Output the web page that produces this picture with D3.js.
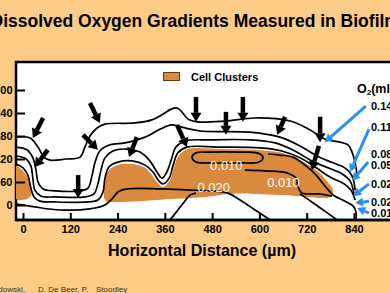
<!DOCTYPE html>
<html>
<head>
<meta charset="utf-8">
<script src="https://cdn.jsdelivr.net/npm/d3@7"></script>
<style>
  html, body { margin: 0; padding: 0; background: #fccb86; }
  svg { display: block; font-family: "Liberation Sans", Arial, sans-serif; }
</style>
</head>
<body>
<svg id="chart" width="390" height="293"></svg>
<script>
// Oxygen contours over a biofilm cross-section, all in micrometres

const xTicks = [0, 120, 240, 360, 480, 600, 720, 840];
const yTicks = [0, 60, 120, 180, 240, 300];
const o2Levels = ["0.14", "0.11", "0.08", "0.05", "0.02", "0.02", "0.01"];

// iso-concentration lines above the clusters, [x, y]
const line014 = [[-18,177],[18,175],[38,151],[53,125],[69,117],[109,120],[145,125],[157,151],[170,180],[188,201],[208,211],[284,214],[327,222],[355,237],[376,250],[391,253],[403,243],[419,224],[442,217],[513,219],[589,227],[678,219],[728,196],[766,172],[804,164],[825,157],[835,138],[843,110],[848,76]];
const line011 = [[-18,151],[10,144],[25,123],[33,91],[38,60],[51,42],[81,37],[145,37],[165,44],[175,76],[183,112],[195,141],[221,157],[259,162],[310,177],[348,198],[378,209],[411,201],[449,193],[576,190],[652,177],[703,154],[746,128],[787,110],[817,97],[835,76],[843,39]];
const line008 = [[-18,128],[8,120],[20,102],[25,70],[30,39],[46,23],[81,21],[157,21],[180,29],[190,55],[198,91],[208,123],[228,141],[261,146],[297,138],[322,115],[340,86],[353,70],[365,86],[376,117],[388,151],[411,167],[475,170],[576,170],[640,162],[690,141],[733,115],[774,97],[810,81],[830,63],[840,29]];
const line005 = [[-18,107],[0,97],[13,76],[20,44],[28,21],[43,10],[81,8],[165,8],[190,13],[203,34],[208,70],[218,99],[241,112],[277,115],[310,104],[330,86],[343,65],[355,55],[371,70],[381,104],[393,136],[416,151],[500,151],[602,149],[657,141],[703,123],[744,97],[779,73],[815,55],[832,39],[843,13]];
// lines inside / below the clusters
const line020 = [[-18,3],[30,-5],[94,-13],[170,-10],[208,0],[226,16],[241,34],[266,42],[348,42],[424,39],[475,37],[520,31],[551,13],[589,-13],[627,-39]];
const hillLine = [[373,-39],[391,-16],[409,8],[424,26],[439,31]];
const lowerRight = [[703,29],[733,8],[766,-16],[797,-39]];
const loop010 = [[429,125],[439,136],[475,138],[551,138],[594,136],[609,125],[599,112],[551,110],[475,110],[439,112]];
const line010b = [[622,133],[652,130],[685,125],[716,104],[744,78],[766,50],[787,26],[817,10],[838,-3],[845,-18],[845,-39]];
const line010c = [[563,91],[614,89],[672,83],[693,70],[698,47],[708,31],[749,29],[784,23]];

// cell cluster outlines
const cellsLeft = [[-18,102],[-5,94],[8,78],[18,57],[23,34],[15,18],[-3,13],[-18,16]];
const cellsMain = [[206,18],[208,60],[216,89],[239,104],[277,107],[310,97],[327,78],[340,60],[355,47],[373,65],[383,99],[396,130],[419,146],[500,146],[602,143],[657,136],[703,117],[744,91],[769,65],[787,37],[779,21],[703,23],[652,26],[589,29],[525,29],[462,21],[386,16],[297,10],[233,8],[211,10]];

// microelectrode positions: tail x, tail y, tip x, tip y
const probeArrows = [[51,227,25,175],[63,144,30,99],[170,266,195,214],[152,183,190,144],[140,78,140,18],[289,177,269,125],[391,209,416,151],[439,282,439,217],[515,243,515,183],[558,282,558,217],[665,230,645,183],[754,230,754,164],[751,154,733,91]];
// blue pointers from the level labels
const levelArrows = [[870,258,766,164],[878,198,830,86],[876,112,835,63],[878,55,838,23],[878,10,843,5],[878,-21,848,-8]];

const contourLabels = ["0.010", "0.020", "0.010"];
const contourLabelAt = [[516,91],[484,34],[661,47]];

const svg = d3.select('#chart');

const x = d3.scaleLinear().domain([0, 840]).range([23, 354]);
const y = d3.scaleLinear().domain([0, 300]).range([205, 90]);

const panel = { left: 16, top: 62, right: 392, bottom: 220 };

// title
svg.append('text')
    .attr('x', -9.5).attr('y', 27)
    .attr('font-size', 17.5).attr('font-weight', 'bold')
    .text('Dissolved Oxygen Gradients Measured in Biofilm');

svg.append('rect')
    .attr('x', panel.left).attr('y', panel.top)
    .attr('width', panel.right - panel.left).attr('height', panel.bottom - panel.top)
    .attr('fill', 'white').attr('stroke', 'black').attr('stroke-width', 2.5);

svg.append('clipPath').attr('id', 'clip')
  .append('rect')
    .attr('x', panel.left).attr('y', panel.top)
    .attr('width', panel.right - panel.left).attr('height', panel.bottom - panel.top);

const plot = svg.append('g').attr('clip-path', 'url(#clip)');

const smooth = d3.line().x(d => x(d[0])).y(d => y(d[1])).curve(d3.curveCatmullRom);
const closed = d3.line().x(d => x(d[0])).y(d => y(d[1])).curve(d3.curveCatmullRomClosed);

[cellsLeft, cellsMain].forEach(c => {
    plot.append('path').attr('d', closed(c)).attr('fill', '#da8a3e');
});

[line014, line011, line008, line005, line020, hillLine, lowerRight, line010b, line010c].forEach(l => {
    plot.append('path')
        .attr('d', smooth(l))
        .attr('fill', 'none').attr('stroke', 'black').attr('stroke-width', 1.7);
});
plot.append('path')
    .attr('d', closed(loop010))
    .attr('fill', 'none').attr('stroke', 'black').attr('stroke-width', 1.7);

plot.selectAll('text.lvl')
    .data(contourLabels)
    .join('text')
    .attr('class', 'lvl')
    .attr('x', (d, i) => x(contourLabelAt[i][0]))
    .attr('y', (d, i) => y(contourLabelAt[i][1]))
    .attr('text-anchor', 'middle')
    .attr('font-size', 13).attr('fill', 'white')
    .text(d => d);

function arrow(g, a, color, shaft, headW, headL) {
    const x1 = x(a[0]), y1 = y(a[1]), x2 = x(a[2]), y2 = y(a[3]);
    const len = Math.hypot(x2 - x1, y2 - y1);
    const ux = (x2 - x1) / len, uy = (y2 - y1) / len;
    const bx = x2 - ux * headL, by = y2 - uy * headL;
    g.append('line')
        .attr('x1', x1).attr('y1', y1).attr('x2', bx).attr('y2', by)
        .attr('stroke', color).attr('stroke-width', shaft);
    g.append('polygon')
        .attr('points', [[x2, y2],
            [bx - uy * headW / 2, by + ux * headW / 2],
            [bx + uy * headW / 2, by - ux * headW / 2]].join(' '))
        .attr('fill', color);
}

probeArrows.forEach(a => arrow(plot, a, 'black', 4.5, 11, 9));
levelArrows.forEach(a => arrow(svg, a, '#2b8ff0', 3, 9, 8));

// axes
const xAxis = svg.append('g')
    .attr('transform', `translate(0,${panel.bottom})`)
    .call(d3.axisBottom(x).tickValues(xTicks).tickSize(-7).tickSizeOuter(0).tickPadding(5));
const yAxis = svg.append('g')
    .attr('transform', `translate(${panel.left},0)`)
    .call(d3.axisLeft(y).tickValues(yTicks).tickSize(-9).tickSizeOuter(0).tickPadding(3.5));

[xAxis, yAxis].forEach(ax => {
    ax.select('.domain').remove();
    ax.selectAll('line').attr('stroke', 'black').attr('stroke-width', 2);
    ax.selectAll('text')
        .attr('font-family', '"Liberation Sans", Arial, sans-serif')
        .attr('font-size', 11).attr('font-weight', 'bold').attr('fill', 'black');
});

svg.append('line')
    .attr('x1', panel.left).attr('x2', panel.right)
    .attr('y1', panel.bottom).attr('y2', panel.bottom)
    .attr('stroke', 'black').attr('stroke-width', 2.5);

svg.append('text')
    .attr('x', 202).attr('y', 255.5)
    .attr('text-anchor', 'middle')
    .attr('font-size', 16).attr('font-weight', 'bold')
    .text('Horizontal Distance (\u00B5m)');

// legend
svg.append('rect')
    .attr('x', 163.5).attr('y', 72.5).attr('width', 16).attr('height', 8)
    .attr('fill', '#da8a3e').attr('stroke', '#6b3a10').attr('stroke-width', 1);
svg.append('text')
    .attr('x', 191).attr('y', 80.5)
    .attr('font-size', 11).attr('font-weight', 'bold')
    .text('Cell Clusters');

const o2 = svg.append('text')
    .attr('x', 357).attr('y', 93)
    .attr('font-size', 12.5).attr('font-weight', 'bold');
o2.append('tspan').text('O');
o2.append('tspan').attr('font-size', 8).attr('dy', 2).text('2');
o2.append('tspan').attr('dy', -2).text('(ml/l)');

const levelY = [106, 127, 154, 165, 184, 202, 213];
svg.selectAll('text.o2')
    .data(o2Levels)
    .join('text')
    .attr('class', 'o2')
    .attr('x', 371)
    .attr('y', (d, i) => levelY[i])
    .attr('dy', '0.35em')
    .attr('font-size', 11).attr('font-weight', 'bold')
    .text(d => d);

// credits, cut off at the left like the slide
const credit = svg.append('g').attr('font-size', 8).attr('fill', '#333');
credit.append('text').attr('x', 25).attr('y', 292).attr('text-anchor', 'end').text('Z. Lewandowski,');
credit.append('text').attr('x', 38).attr('y', 292).text('D. De Beer, P.');
credit.append('text').attr('x', 96).attr('y', 292).text('Stoodley');
</script>
</body>
</html>
